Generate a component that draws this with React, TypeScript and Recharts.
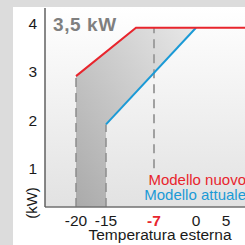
import React from 'react';
import {
  ComposedChart,
  Line,
  Area,
  XAxis,
  YAxis,
  ReferenceLine,
  CartesianGrid,
  Label,
} from 'recharts';

// ---- data ----
const newModelTemps = [-20, -10, 8.17];
const newModelKW = [2.91, 3.91, 3.91];
const oldModelTemps = [-15, 0];
const oldModelKW = [1.91, 3.91];
const xTicks = [-20, -15, -7, 0, 5];
const yTicks = [1, 2, 3, 4];
const xDomain: [number, number] = [-25.17, 8.17];
const yDomain: [number, number] = [0.2, 4.32];
const highlightTemp = -7;
const highlightLow = 1;
const title = '3,5 kW';
const newLabel = 'Modello nuovo';
const oldLabel = 'Modello attuale';
const xTitle = 'Temperatura esterna';
const yTitle = '(kW)';

const RED = '#e8252d';
const BLUE = '#1b9ad6';
const FONT = '"Liberation Sans", Arial, sans-serif';

const newData = newModelTemps.map((t, i) => ({ t, kw: newModelKW[i] }));
const oldData = oldModelTemps.map((t, i) => ({ t, kw: oldModelKW[i] }));

function valueAt(xs: number[], ys: number[], x: number): number {
  if (x <= xs[0]) return ys[0];
  for (let i = 1; i < xs.length; i++) {
    if (x <= xs[i]) {
      const f = (x - xs[i - 1]) / (xs[i] - xs[i - 1]);
      return ys[i - 1] + f * (ys[i] - ys[i - 1]);
    }
  }
  return ys[ys.length - 1];
}
const upper = (x: number) => valueAt(newModelTemps, newModelKW, x);
const lower = (x: number) => valueAt(oldModelTemps, oldModelKW, x);

// band between the two models (gray), floor down to axis where old model is absent
const bandData = [
  { t: newModelTemps[0], v: [yDomain[0], upper(newModelTemps[0])] },
  { t: oldModelTemps[0], v: [yDomain[0], upper(oldModelTemps[0])] },
  { t: oldModelTemps[0], v: [oldModelKW[0], upper(oldModelTemps[0])] },
  { t: newModelTemps[1], v: [lower(newModelTemps[1]), newModelKW[1]] },
  { t: oldModelTemps[1], v: [oldModelKW[1], upper(oldModelTemps[1])] },
];

const XTick = (props: any) => {
  const { x, y, payload } = props;
  const hl = payload.value === highlightTemp;
  return (
    <text
      x={x}
      y={y}
      dy="0.71em"
      textAnchor="middle"
      fontFamily={FONT}
      fontSize={15.5}
      fontWeight={hl ? 'bold' : 'normal'}
      fill={hl ? RED : '#1a1a1a'}
    >
      {payload.value}
    </text>
  );
};

const YTick = (props: any) => {
  const { x, y, payload } = props;
  return (
    <text
      x={x}
      y={y}
      dy="0.355em"
      textAnchor="end"
      fontFamily={FONT}
      fontSize={15.5}
      fill="#1a1a1a"
    >
      {payload.value}
    </text>
  );
};

const Texts = () => (
  <g fontFamily={FONT}>
    <text x={53} y={31} fontSize={19} fontWeight="bold" fill="#7f7f7f" letterSpacing={0.6}>
      {title}
    </text>
    <text x={246} y={185} fontSize={15} textAnchor="end" fill={RED}>
      {newLabel}
    </text>
    <text x={246} y={199.5} fontSize={15} textAnchor="end" fill={BLUE}>
      {oldLabel}
    </text>
    <text x={160} y={240} fontSize={15.5} textAnchor="middle" fill="#1a1a1a">
      {xTitle}
    </text>
    <text
      x={37}
      y={203}
      fontSize={15}
      textAnchor="middle"
      fill="#1a1a1a"
      transform="rotate(-90, 37, 203)"
    >
      {yTitle}
    </text>
  </g>
);

export default function App() {
  return (
    <div
      style={{
        position: 'absolute',
        left: 0,
        top: 0,
        width: 245,
        height: 245,
        background: '#dcdcdc',
        overflow: 'hidden',
      }}
    >
      <div
        style={{
          position: 'absolute',
          left: 13,
          top: 7,
          right: 0,
          bottom: 0,
          background: '#ffffff',
        }}
      />
      <div style={{ position: 'absolute', left: 0, top: 0 }}>
        <ComposedChart
          width={245}
          height={245}
          margin={{ top: 8, right: 0, left: 0, bottom: 0 }}
        >
          <defs>
            <linearGradient id="plotBg" x1="0" y1="0" x2="0" y2="1">
              <stop offset="0%" stopColor="#ffffff" />
              <stop offset="100%" stopColor="#e2e2e2" />
            </linearGradient>
            <linearGradient id="bandFill" x1="0" y1="1" x2="1" y2="0">
              <stop offset="0%" stopColor="#aaaaaa" />
              <stop offset="100%" stopColor="#e8e8e8" />
            </linearGradient>
          </defs>
          <CartesianGrid fill="url(#plotBg)" stroke="none" horizontal={false} vertical={false} />
          <XAxis
            dataKey="t"
            type="number"
            domain={xDomain}
            ticks={xTicks}
            allowDataOverflow
            height={38}
            tickLine={false}
            axisLine={{ stroke: '#707070', strokeWidth: 1.5 }}
            tick={<XTick />}
            interval={0}
          >
            <Label content={() => <Texts />} />
          </XAxis>
          <YAxis
            type="number"
            domain={yDomain}
            ticks={yTicks}
            allowDataOverflow
            width={45}
            tickLine={false}
            axisLine={{ stroke: '#606060', strokeWidth: 1.5 }}
            tick={<YTick />}
            interval={0}
          />
          <Area
            data={bandData}
            dataKey="v"
            type="linear"
            stroke="none"
            fill="url(#bandFill)"
            fillOpacity={1}
            isAnimationActive={false}
            dot={false}
            activeDot={false}
          />
          <ReferenceLine
            segment={[
              { x: newModelTemps[0], y: yDomain[0] },
              { x: newModelTemps[0], y: newModelKW[0] },
            ]}
            stroke="#8c8c8c"
            strokeWidth={1.5}
            strokeDasharray="9 6"
          />
          <ReferenceLine
            segment={[
              { x: oldModelTemps[0], y: yDomain[0] },
              { x: oldModelTemps[0], y: oldModelKW[0] },
            ]}
            stroke="#8c8c8c"
            strokeWidth={1.5}
            strokeDasharray="9 6"
          />
          <ReferenceLine
            segment={[
              { x: highlightTemp, y: highlightLow },
              { x: highlightTemp, y: upper(highlightTemp) },
            ]}
            stroke="#a0a0a0"
            strokeWidth={2}
            strokeDasharray="9 6"
          />
          <Line
            data={oldData}
            dataKey="kw"
            type="linear"
            stroke={BLUE}
            strokeWidth={2}
            dot={false}
            activeDot={false}
            isAnimationActive={false}
          />
          <Line
            data={newData}
            dataKey="kw"
            type="linear"
            stroke={RED}
            strokeWidth={2}
            dot={false}
            activeDot={false}
            isAnimationActive={false}
          />
        </ComposedChart>
      </div>
    </div>
  );
}
